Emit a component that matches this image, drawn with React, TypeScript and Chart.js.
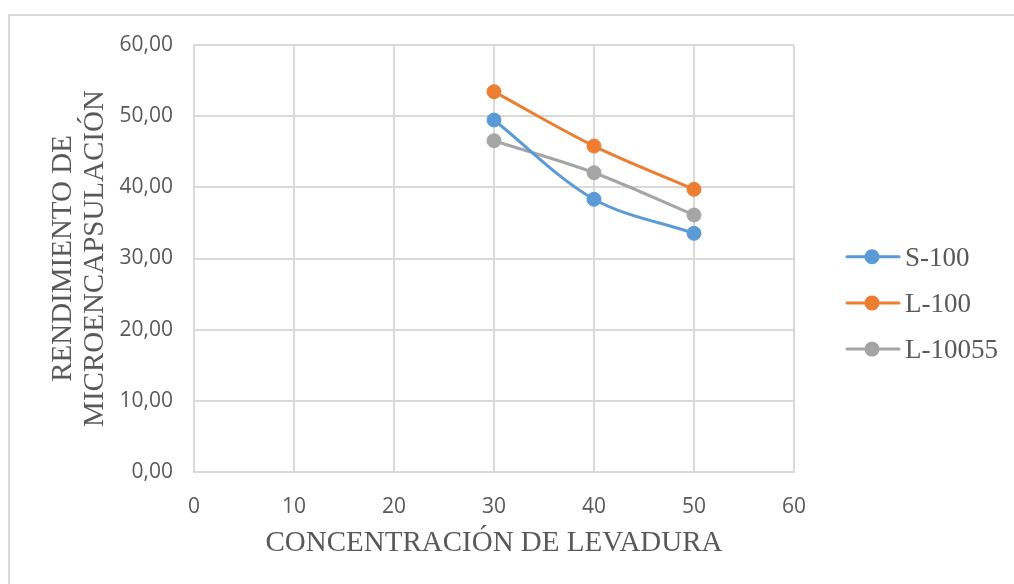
import React, { useEffect, useRef } from "react";
import { Chart, registerables } from "chart.js";

Chart.register(...registerables);

// Concentración de levadura (x) and rendimiento de microencapsulación (y)
const concentraciones = [30, 40, 50];
const s100 = [49.46, 38.32, 33.54];
const l100 = [53.44, 45.8, 39.72];
const l10055 = [46.55, 42.05, 36.11];

const seriesNames = ["S-100", "L-100", "L-10055"];
const seriesColors = ["#5B9BD5", "#ED7D31", "#A5A5A5"];

const xTitle = "CONCENTRACIÓN DE LEVADURA";
const yTitleLines = ["RENDIMIENTO DE", "MICROENCAPSULACIÓN"];

const TEXT = "#595959";
const GRID = "#d9d9d9";
const SERIF = '"Liberation Serif", "Times New Roman", serif';
const SANS = '"Open Sans", "Liberation Sans", sans-serif';

// Axis titles and the right-hand legend, drawn on the chart canvas
const titlesAndLegend = {
  id: "titlesAndLegend",
  afterDraw(chart: any) {
    const { ctx, chartArea } = chart;
    ctx.save();
    ctx.fillStyle = TEXT;
    ctx.font = `29px ${SERIF}`;
    ctx.textBaseline = "alphabetic";

    // x title
    ctx.textAlign = "center";
    ctx.fillText(xTitle, (chartArea.left + chartArea.right) / 2, 551);

    // y title, two rotated lines
    ctx.save();
    ctx.translate(0, (chartArea.top + chartArea.bottom) / 2);
    ctx.rotate(-Math.PI / 2);
    ctx.fillText(yTitleLines[0], 0, 70.5);
    ctx.fillText(yTitleLines[1], 0, 103);
    ctx.restore();

    // legend
    ctx.font = `27px ${SERIF}`;
    ctx.textAlign = "left";
    chart.data.datasets.forEach((ds: any, i: number) => {
      const y = 256.7 + i * 46.2;
      ctx.strokeStyle = ds.borderColor;
      ctx.lineWidth = 3;
      ctx.lineCap = "round";
      ctx.beginPath();
      ctx.moveTo(847, y);
      ctx.lineTo(899, y);
      ctx.stroke();
      ctx.fillStyle = ds.backgroundColor;
      ctx.beginPath();
      ctx.arc(872, y, 7.5, 0, Math.PI * 2);
      ctx.fill();
      ctx.fillStyle = TEXT;
      ctx.fillText(ds.label, 905, y + 9);
    });
    ctx.restore();
  },
};

export default function App() {
  const canvasRef = useRef<HTMLCanvasElement | null>(null);

  useEffect(() => {
    const canvas = canvasRef.current;
    if (!canvas) return;
    const series = [s100, l100, l10055];
    const chart = new Chart(canvas, {
      type: "line",
      data: {
        datasets: series.map((vals, i) => ({
          label: seriesNames[i],
          data: concentraciones.map((x, j) => ({ x, y: vals[j] })),
          borderColor: seriesColors[i],
          backgroundColor: seriesColors[i],
          borderWidth: 3,
          pointRadius: 7,
          pointBorderWidth: 1,
          pointBorderColor: seriesColors[i],
          pointBackgroundColor: seriesColors[i],
          tension: 0.33,
          fill: false,
        })),
      },
      options: {
        animation: false,
        responsive: false,
        devicePixelRatio: 1,
        layout: { padding: { left: 0, top: 45, right: 220, bottom: 0 } },
        plugins: {
          legend: { display: false },
          tooltip: { enabled: false },
        },
        scales: {
          x: {
            type: "linear",
            min: 0,
            max: 60,
            ticks: {
              stepSize: 10,
              color: TEXT,
              font: { family: SANS, size: 21 },
              padding: 22,
            },
            grid: { color: GRID, lineWidth: 2, drawTicks: false },
            border: { color: GRID, width: 2 },
            afterFit: (scale: any) => {
              scale.height = 112;
            },
          },
          y: {
            min: 0,
            max: 60,
            ticks: {
              stepSize: 10,
              color: TEXT,
              font: { family: SANS, size: 21 },
              padding: 21,
              callback: (v: any) => Number(v).toFixed(2).replace(".", ","),
            },
            grid: { color: GRID, lineWidth: 2, drawTicks: false },
            border: { color: GRID, width: 2 },
            afterFit: (scale: any) => {
              scale.width = 194;
            },
          },
        },
      },
      plugins: [titlesAndLegend],
    });
    return () => chart.destroy();
  }, []);

  return (
    <div style={{ position: "fixed", left: 0, top: 0, width: 1014, height: 584, background: "#fff", overflow: "hidden" }}>
      <div
        style={{
          position: "absolute",
          left: 8,
          top: 14,
          width: 1100,
          height: 700,
          borderLeft: `2px solid ${GRID}`,
          borderTop: `2px solid ${GRID}`,
        }}
      />
      <canvas
        ref={canvasRef}
        width={1014}
        height={584}
        style={{ position: "absolute", left: 0, top: 0, display: "block" }}
      />
    </div>
  );
}
